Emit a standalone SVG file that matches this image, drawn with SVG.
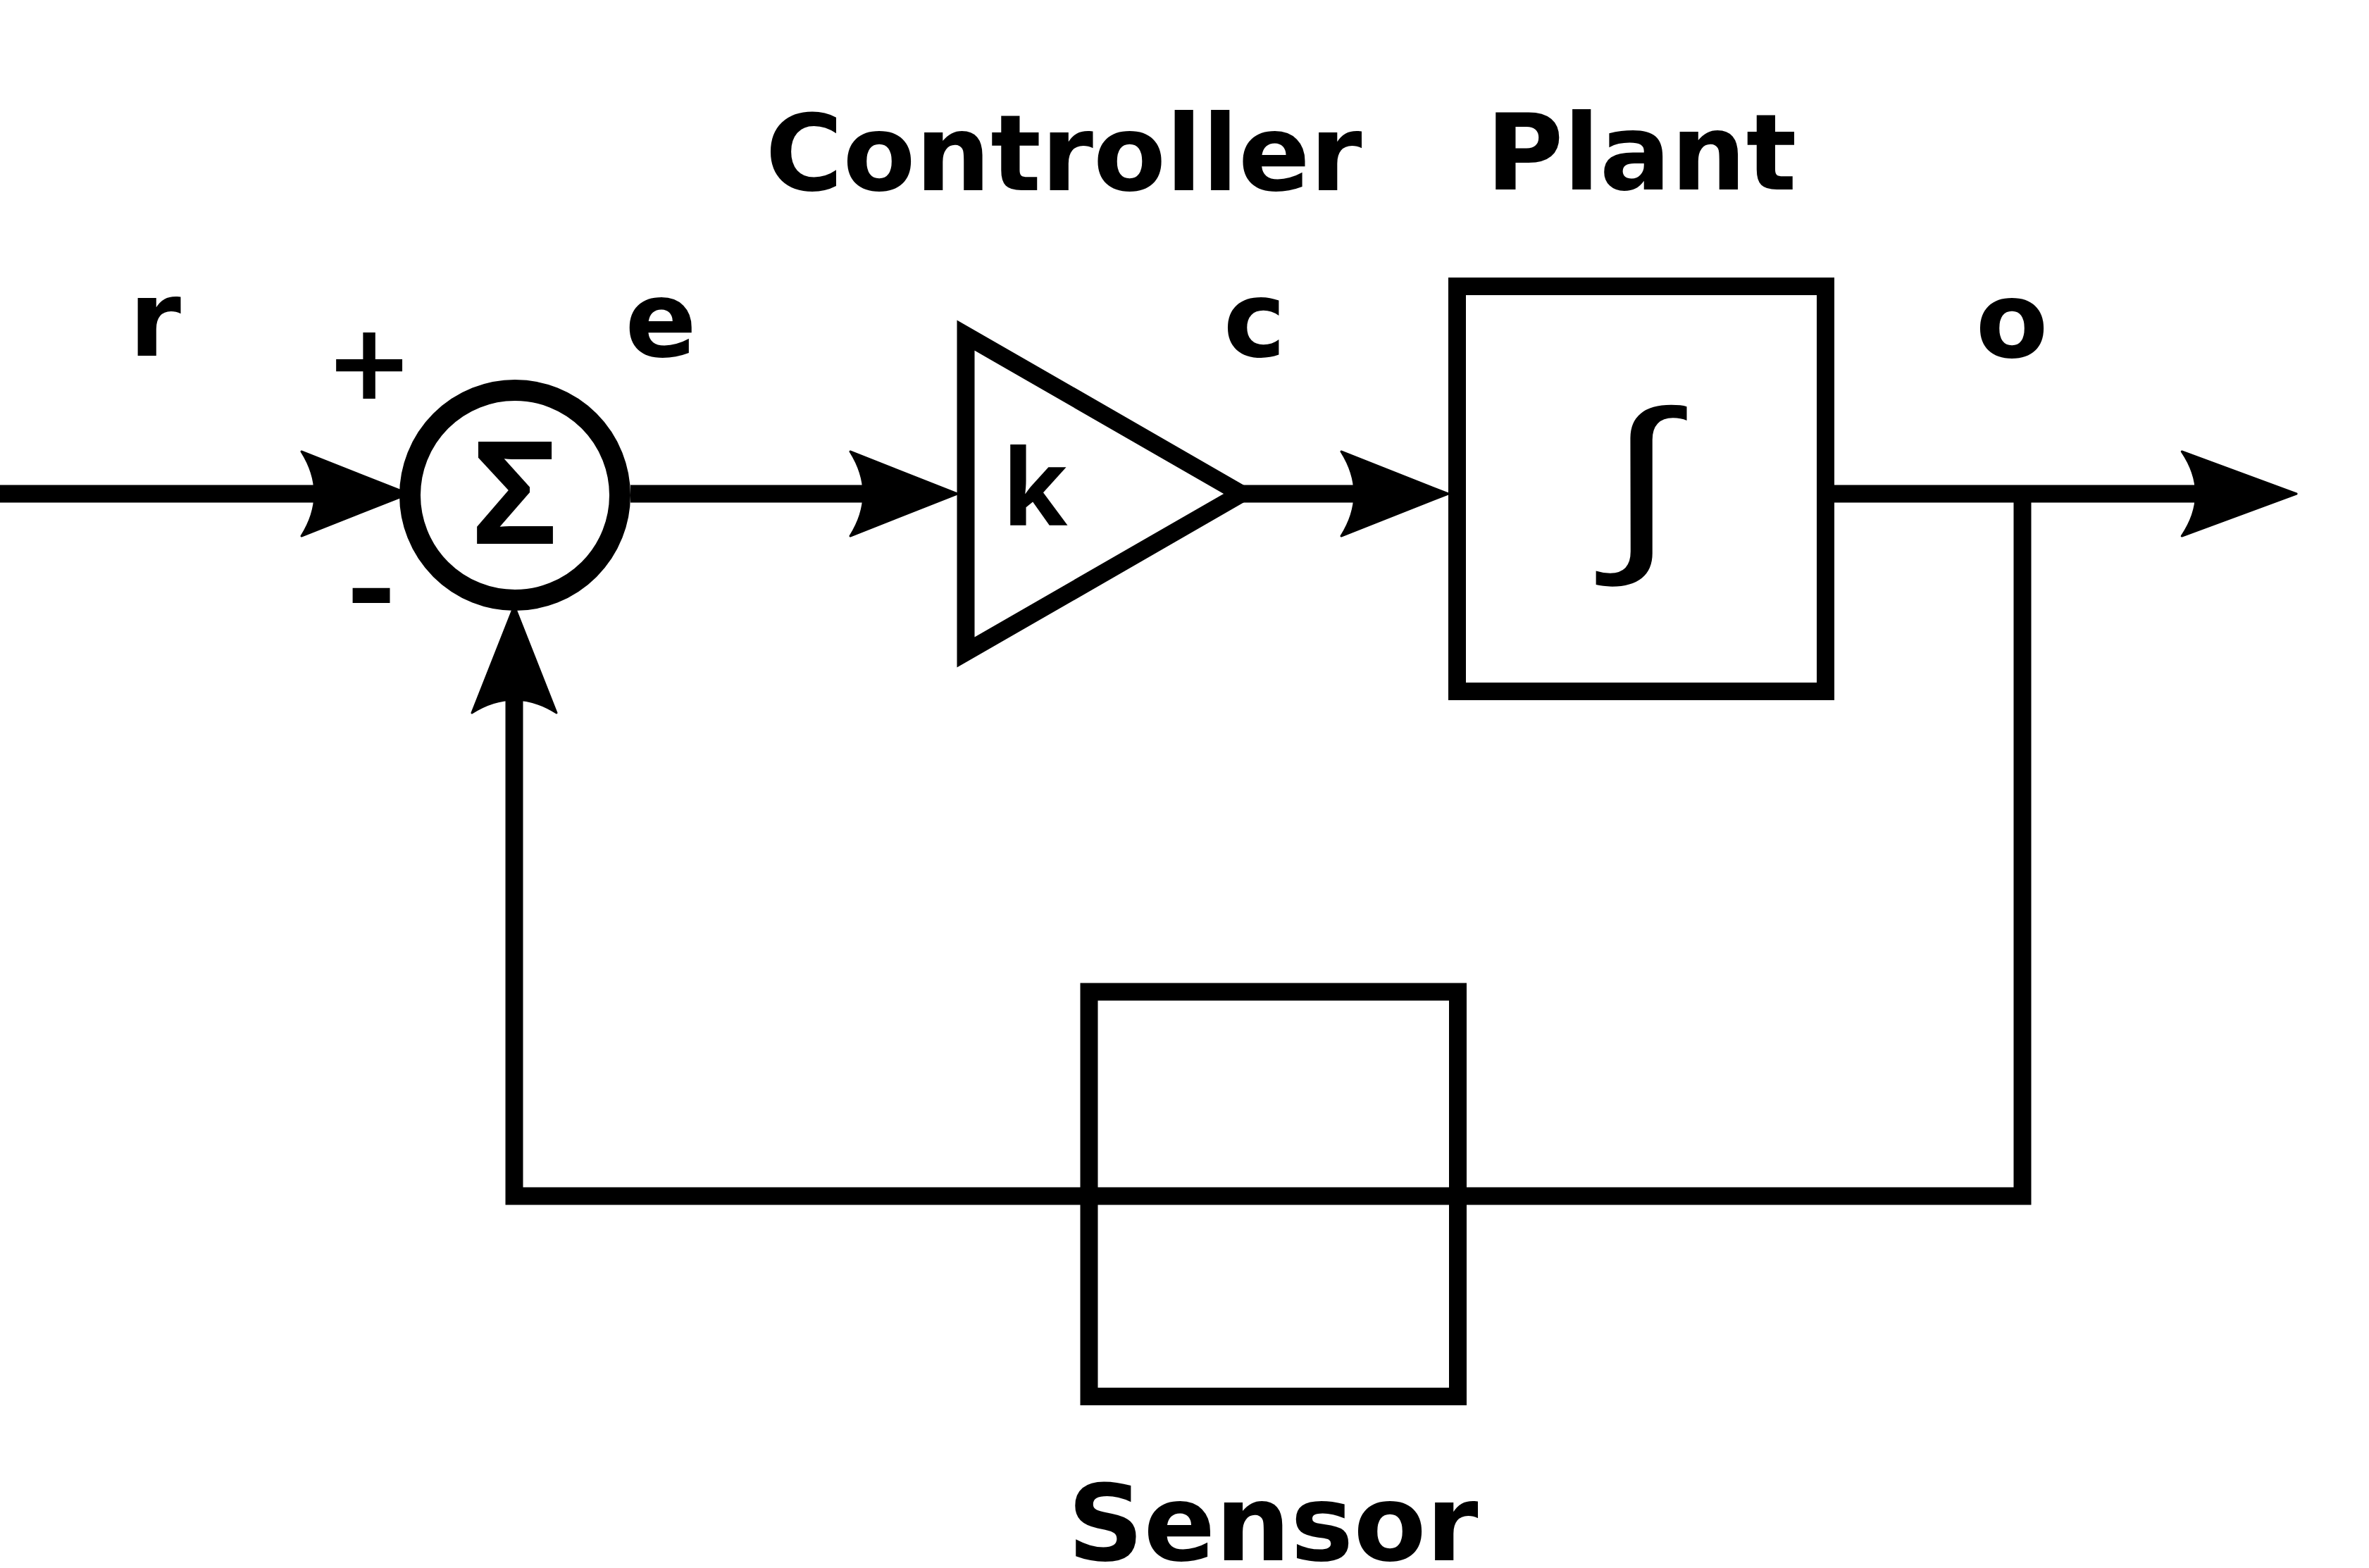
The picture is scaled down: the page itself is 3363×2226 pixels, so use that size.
<svg xmlns="http://www.w3.org/2000/svg" width="3363" height="2226" viewBox="0 0 3363 2226">
<style>
.ln{fill:none;stroke:#000;stroke-width:25;stroke-linejoin:miter;stroke-linecap:butt}
.blk{fill:none;stroke:#000;stroke-width:25;stroke-linejoin:miter}
.lbl{font-family:"DejaVu Sans",sans-serif;font-weight:bold;font-size:150px;fill:#000;text-anchor:middle}
.sym{font-family:"Noto Sans",sans-serif;font-weight:bold;fill:#000;text-anchor:middle}
.ah{fill:#000;stroke:#000;stroke-width:3;stroke-linejoin:round}
</style>
<defs>
<path id="ah" d="M0,0 L-152,-60 Q-114,0 -152,60 Z"/>
</defs>
<rect width="3363" height="2226" fill="#fff"/>
<g id="connectors">
<path class="ln" d="M0,701 H450"/>
<path class="ln" d="M895,701 H1230"/>
<path class="ln" d="M1755,701 H1925"/>
<path class="ln" d="M2604,701 H3120"/>
<path class="ln" d="M2871,701 V1698 H730 V990"/>
<use href="#ah" class="ah" transform="translate(580,701)"/>
<use href="#ah" class="ah" transform="translate(1359,701)"/>
<use href="#ah" class="ah" transform="translate(2056,701)"/>
<use href="#ah" class="ah" transform="translate(3260,701) scale(1.07,1)"/>
<use href="#ah" class="ah" transform="translate(730,860) rotate(-90)"/>
</g>
<g id="sum">
<circle cx="731" cy="703" r="149" fill="#fff" stroke="#000" stroke-width="30"/>
<text class="sym" x="731" y="772" style="font-size:203px">Σ</text>
<text class="lbl" x="524" y="566">+</text>
<text class="lbl" x="527" y="889" transform="translate(527,0) scale(1.15,1) translate(-527,0)">-</text>
</g>
<g id="controller">
<polygon class="blk" points="1371,476 1371,926 1762,701" fill="#fff"/>
<text class="sym" x="1469" y="746" style="font-size:150px">k</text>
<text class="lbl" x="1510" y="270">Controller</text>
</g>
<g id="plant">
<rect class="blk" x="2068.5" y="406.5" width="523" height="575"/>
<text class="sym" x="2330" y="775" style="font-size:272px;font-weight:normal" transform="translate(2330,0) scale(1.28,1) translate(-2330,0)">∫</text>
<text class="lbl" x="2330" y="269">Plant</text>
</g>
<g id="sensor">
<rect class="blk" x="1546" y="1408" width="523.5" height="574.5"/>
<text class="lbl" x="1807" y="2215">Sensor</text>
</g>
<g id="labels">
<text class="lbl" x="220" y="505">r</text>
<text class="lbl" x="938" y="506">e</text>
<text class="lbl" x="1781" y="506">c</text>
<text class="lbl" x="2856" y="507">o</text>
</g>
</svg>
